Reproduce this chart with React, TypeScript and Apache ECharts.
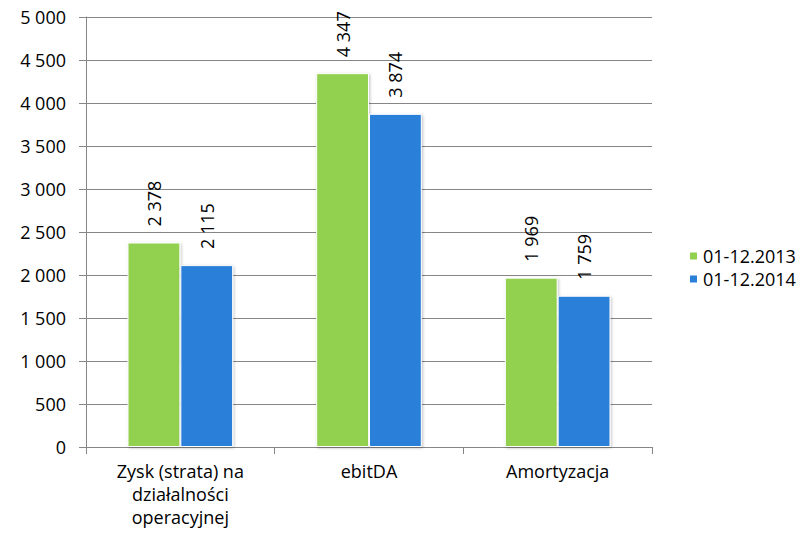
import React, { useEffect, useRef } from "react";
import * as echarts from "echarts";

const categories = ["Zysk (strata) na\ndziałalności\noperacyjnej", "ebitDA", "Amortyzacja"];
const series2013 = [2378, 4347, 1969];
const series2014 = [2115, 3874, 1759];
const seriesNames = ["01-12.2013", "01-12.2014"];

const fmt = (v: number) => {
  const s = String(Math.round(v));
  return s.replace(/\B(?=(\d{3})+(?!\d))/g, " ");
};

const FONT = "'Open Sans', 'Liberation Sans', sans-serif";
const FS = 18;

export default function App() {
  const ref = useRef<HTMLDivElement>(null);
  useEffect(() => {
    document.body.style.margin = "0";
    if (!ref.current) return;
    const chart = echarts.init(ref.current, undefined, { renderer: "svg" });
    const label = {
      show: true,
      position: "top" as const,
      rotate: 90,
      align: "left" as const,
      verticalAlign: "middle" as const,
      distance: 16,
      color: "#000",
      fontSize: FS,
      fontFamily: FONT,
      formatter: (p: any) => fmt(p.value),
    };
    const shadow = { shadowColor: "rgba(0,0,0,0.25)", shadowBlur: 3, shadowOffsetX: 1, shadowOffsetY: 1 };
    chart.setOption({
      animation: false,
      textStyle: { fontFamily: FONT },
      grid: { left: 86, right: 159, top: 17, bottom: 91, containLabel: false },
      legend: {
        orient: "vertical",
        left: 683,
        top: 242,
        itemWidth: 9,
        itemHeight: 9,
        itemGap: 5,
        icon: "rect",
        textStyle: { fontSize: FS, color: "#000", fontFamily: FONT },
        data: seriesNames,
      },
      xAxis: {
        type: "category",
        data: categories,
        axisLine: { show: true, lineStyle: { color: "#868686", width: 1 } },
        axisTick: { show: true, length: 7, lineStyle: { color: "#868686" } },
        axisLabel: { color: "#000", fontSize: FS, lineHeight: 23, margin: 12, fontFamily: FONT },
      },
      yAxis: {
        type: "value",
        min: 0,
        max: 5000,
        interval: 500,
        axisLine: { show: true, lineStyle: { color: "#868686", width: 1 } },
        axisTick: { show: true, length: 7, lineStyle: { color: "#868686" } },
        splitLine: { show: true, lineStyle: { color: "#868686", width: 1 } },
        axisLabel: { color: "#000", fontSize: FS, margin: 20, fontFamily: FONT, formatter: (v: number) => fmt(v) },
      },
      series: [
        {
          name: seriesNames[0],
          type: "bar",
          data: series2013,
          barGap: "0%",
          barCategoryGap: "44%",
          itemStyle: { color: "#92D050", borderColor: "#fff", borderWidth: 1, ...shadow },
          label,
        },
        {
          name: seriesNames[1],
          type: "bar",
          data: series2014,
          itemStyle: { color: "#2A7FD8", borderColor: "#fff", borderWidth: 1, ...shadow },
          label,
        },
      ],
    });
    return () => chart.dispose();
  }, []);
  return <div ref={ref} style={{ width: 811, height: 538 }} />;
}
